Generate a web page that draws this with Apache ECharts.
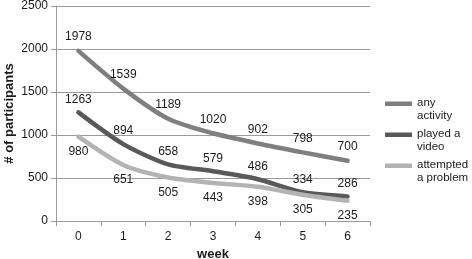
<!DOCTYPE html>
<html>
<head>
<meta charset="utf-8">
<script src="https://cdn.jsdelivr.net/npm/echarts@6/dist/echarts.min.js"></script>
<style>
  html, body { margin: 0; padding: 0; background: #fff; }
  #chart { width: 472px; height: 259px; }
</style>
</head>
<body>
<div id="chart"></div>
<script>
const weeks = ['0', '1', '2', '3', '4', '5', '6']
const anyActivity = [1978, 1539, 1189, 1020, 902, 798, 700]
const playedVideo = [1263, 894, 658, 579, 486, 334, 286]
const attemptedProblem = [980, 651, 505, 443, 398, 305, 235]

const font = 'Liberation Sans, Arial, sans-serif'
const gray = '#9a9a9a'

const lineSeries = (name, data, color, labelPos, dist) => ({
  name: name,
  type: 'line',
  data: data,
  smooth: 0.25,
  symbol: 'circle',
  symbolSize: 0,
  showSymbol: true,
  lineStyle: { width: 4.5, color: color, cap: 'round' },
  itemStyle: { color: color },
  label: {
    show: true,
    position: labelPos,
    distance: dist,
    color: '#1a1a1a',
    fontFamily: font,
    fontSize: 12
  },
  labelLayout: { hideOverlap: false }
})

const chart = echarts.init(document.getElementById('chart'))
chart.setOption({
  animation: false,
  grid: { left: 56, right: 102, top: 6, bottom: 38, containLabel: false, outerBoundsMode: 'none' },
  legend: {
    left: 380,
    top: 92,
    orient: 'vertical',
    itemWidth: 27,
    itemHeight: 16,
    itemGap: 6,
    itemTextGap: 5,
    icon: 'path://M0,0h27v4.5h-27z M0,16h0.01',
    textStyle: { fontFamily: font, fontSize: 11.5, color: '#1a1a1a', lineHeight: 12.5 },
    formatter: function (name) {
      return {
        'any activity': 'any\nactivity',
        'played a video': 'played a\nvideo',
        'attempted a problem': 'attempted\na problem'
      }[name]
    }
  },
  xAxis: {
    type: 'category',
    data: weeks,
    boundaryGap: true,
    name: 'week',
    nameLocation: 'middle',
    nameGap: 27,
    nameMoveOverlap: false,
    nameTextStyle: { fontFamily: font, fontSize: 13, fontWeight: 'bold', color: '#1a1a1a' },
    axisLine: { lineStyle: { color: gray } },
    axisTick: { show: true, length: 5, lineStyle: { color: gray } },
    axisLabel: { fontFamily: font, fontSize: 12, color: '#1a1a1a', margin: 10 }
  },
  yAxis: {
    type: 'value',
    min: 0,
    max: 2500,
    interval: 500,
    name: '# of participants',
    nameLocation: 'middle',
    nameGap: 40,
    nameMoveOverlap: false,
    nameTextStyle: { fontFamily: font, fontSize: 13, fontWeight: 'bold', color: '#1a1a1a' },
    axisLine: { show: true, lineStyle: { color: gray } },
    axisTick: { show: true, length: 5, lineStyle: { color: gray } },
    axisLabel: {
      fontFamily: font, fontSize: 12, color: '#1a1a1a', margin: 8,
      formatter: function (v) { return String(v) }
    },
    splitLine: { lineStyle: { color: gray } }
  },
  series: [
    lineSeries('any activity', anyActivity, '#7f7f7f', 'top', 8),
    lineSeries('played a video', playedVideo, '#595959', 'top', 7),
    lineSeries('attempted a problem', attemptedProblem, '#b3b3b3', 'bottom', 9)
  ]
})
</script>
</body>
</html>
